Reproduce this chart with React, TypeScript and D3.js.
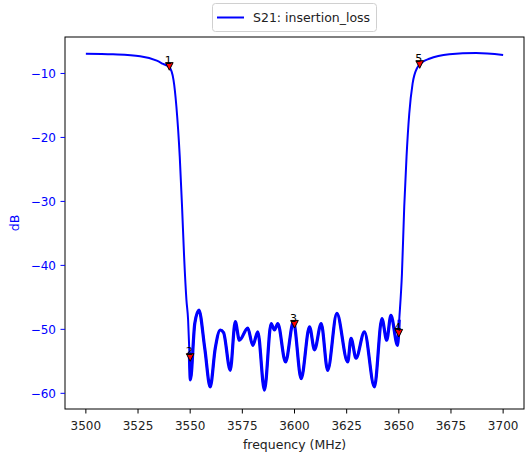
import * as d3 from "d3";

// S21 trace (frequency in MHz, level in dB)
const freqMHz = [
  3500, 3513, 3526, 3534, 3537, 3540, 3542, 3543.4, 3545, 3546.1, 3547.1, 3548.2,
  3549, 3549.6, 3550.1, 3552.2, 3554.2, 3557, 3559.6, 3562, 3564.4, 3566, 3569.2,
  3571.6, 3573.6, 3577.6, 3580, 3582.4, 3585.6, 3588.8, 3590.4, 3592, 3595.7,
  3599.5, 3603.2, 3607.2, 3609.6, 3612.8, 3615.9, 3620.3, 3625.5, 3627.1, 3629.5,
  3633.5, 3638.3, 3641.9, 3644.2, 3646.2, 3649.4, 3650.2, 3651.5, 3652.6, 3653.7,
  3655, 3656.6, 3659, 3661.4, 3664.6, 3674.2, 3687, 3700,
];
const s21dB = [
  -6.9, -7.0, -7.3, -8.0, -8.5, -9.0, -11.0, -15.2, -23.0, -30.8, -38.7, -45.4,
  -48.5, -53.5, -57.9, -49.1, -47.0, -53.0, -59.0, -53.0, -50.1, -50.5, -56.4,
  -48.8, -51.7, -49.8, -52.5, -50.4, -59.5, -49.1, -50.1, -49.1, -55.1,
  -48.8, -57.7, -49.6, -53.2, -49.1, -56.4, -47.5, -55.1, -51.4, -54.5,
  -50.4, -59.0, -48.3, -51.7, -47.8, -52.5, -48.5, -41.3, -30.8, -23.0,
  -16.3, -11.6, -9.0, -8.2, -7.7, -7.0, -6.8, -7.1,
];

// markers
const markerFreq = [3540, 3550, 3600, 3650, 3660];
const markerDB = [-8.9, -54.4, -49.2, -50.6, -8.6];
const markerLabels = ["1", "2", "3", "4", "5"];

const xTicks = [3500, 3525, 3550, 3575, 3600, 3625, 3650, 3675, 3700];
const yTicks = [-10, -20, -30, -40, -50, -60];

const WIDTH = 525;
const HEIGHT = 455;
const PLOT = { left: 65, right: 524, top: 37, bottom: 409 };
const FONT = "DejaVu Sans, sans-serif";

export default function App() {
  const x = d3.scaleLinear().domain([3490, 3710]).range([PLOT.left, PLOT.right]);
  const y = d3.scaleLinear().domain([-62.45, -4.3]).range([PLOT.bottom, PLOT.top]);

  const points = freqMHz.map((f, i) => ({ f, v: s21dB[i] }));
  const line = d3
    .line<{ f: number; v: number }>()
    .x((d) => x(d.f))
    .y((d) => y(d.v))
    .curve(d3.curveMonotoneX);

  // the measured stopband is noisy, so the trace looks heavier there
  const stopband = points.filter((d) => d.f >= 3549.6 && d.f <= 3650.2);

  const tri = (cx: number, cy: number) => {
    const s = 3.8;
    return `M${cx - s},${cy - s}L${cx + s},${cy - s}L${cx},${cy + s}Z`;
  };

  return (
    <svg
      width={WIDTH}
      height={HEIGHT}
      style={{ position: "absolute", left: 0, top: 0, background: "#fff" }}
      fontFamily={FONT}
    >
      <defs>
        <clipPath id="plot-clip">
          <rect
            x={PLOT.left}
            y={PLOT.top}
            width={PLOT.right - PLOT.left}
            height={PLOT.bottom - PLOT.top}
          />
        </clipPath>
      </defs>

      {/* trace */}
      <g clipPath="url(#plot-clip)">
        <path d={line(points) ?? ""} fill="none" stroke="blue" strokeWidth={2} />
        <path
          d={line(stopband) ?? ""}
          fill="none"
          stroke="blue"
          strokeWidth={3.2}
          strokeLinejoin="round"
        />
      </g>

      {/* markers */}
      {markerFreq.map((f, i) => (
        <g key={markerLabels[i]}>
          <path
            d={tri(x(f), y(markerDB[i]))}
            fill="red"
            stroke="black"
            strokeWidth={1}
          />
          <text
            x={x(f) - 1}
            y={y(markerDB[i]) - 2.5}
            fontSize={11}
            textAnchor="middle"
            fill="black"
          >
            {markerLabels[i]}
          </text>
        </g>
      ))}

      {/* frame */}
      <rect
        x={PLOT.left}
        y={PLOT.top}
        width={PLOT.right - PLOT.left}
        height={PLOT.bottom - PLOT.top}
        fill="none"
        stroke="black"
        strokeWidth={1}
      />

      {/* x axis */}
      {xTicks.map((t) => (
        <g key={t}>
          <line
            x1={x(t)}
            x2={x(t)}
            y1={PLOT.bottom}
            y2={PLOT.bottom + 4.5}
            stroke="black"
            strokeWidth={1}
          />
          <text x={x(t)} y={430} fontSize={12} textAnchor="middle" fill="#222">
            {t}
          </text>
        </g>
      ))}
      <text
        x={(PLOT.left + PLOT.right) / 2}
        y={449}
        fontSize={12.5}
        textAnchor="middle"
        fill="#222"
      >
        frequency (MHz)
      </text>

      {/* y axis */}
      {yTicks.map((t) => (
        <g key={t}>
          <line
            x1={PLOT.left - 4.5}
            x2={PLOT.left}
            y1={y(t)}
            y2={y(t)}
            stroke="blue"
            strokeWidth={1}
          />
          <text
            x={56}
            y={y(t)}
            dy="0.36em"
            fontSize={12}
            textAnchor="end"
            fill="blue"
          >
            {t < 0 ? `\u2212${Math.abs(t)}` : t}
          </text>
        </g>
      ))}
      <text
        transform={`translate(19,${(PLOT.top + PLOT.bottom) / 2}) rotate(-90)`}
        fontSize={12.5}
        textAnchor="middle"
        fill="blue"
      >
        dB
      </text>

      {/* legend */}
      <g>
        <rect
          x={212.5}
          y={3.5}
          width={164}
          height={28}
          rx={3}
          fill="white"
          fillOpacity={0.8}
          stroke="#d0d0d0"
          strokeWidth={1}
        />
        <line x1={217} x2={244} y1={17.5} y2={17.5} stroke="blue" strokeWidth={2} />
        <text x={253} y={22} fontSize={12.5} fill="#222">
          S21: insertion_loss
        </text>
      </g>
    </svg>
  );
}
